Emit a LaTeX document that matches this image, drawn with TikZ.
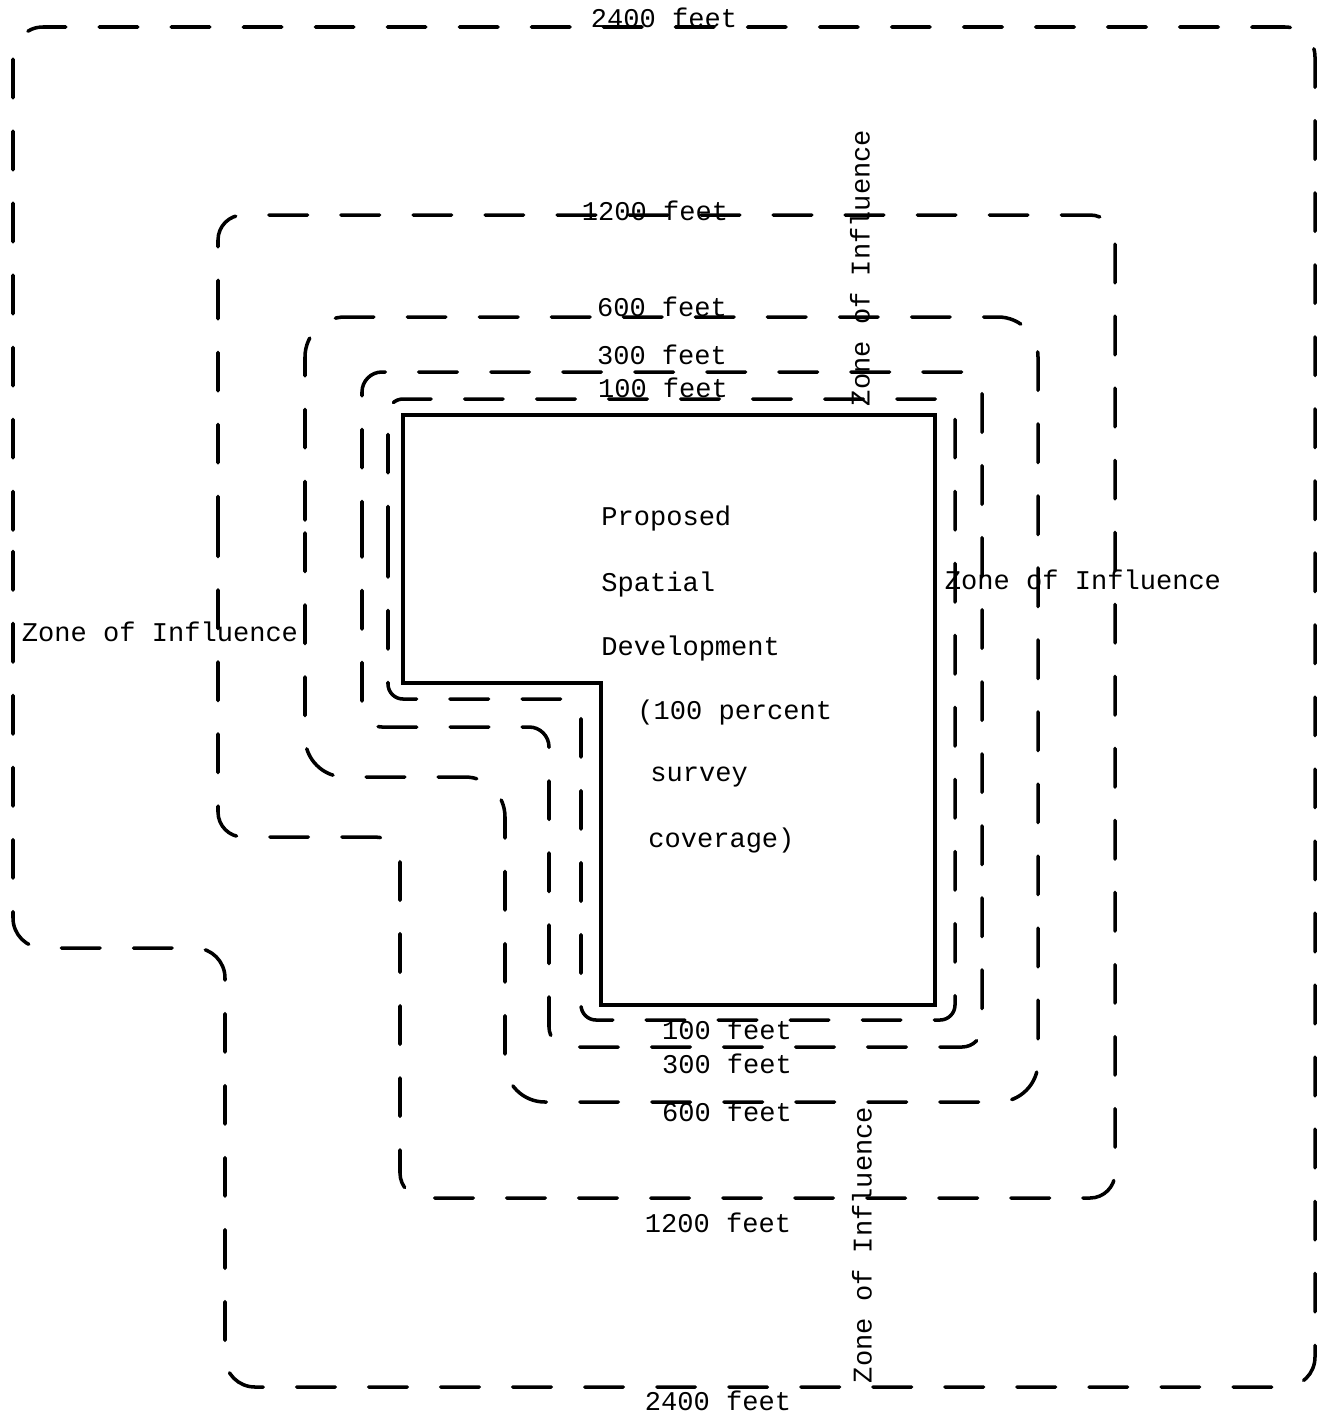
\documentclass[tikz,border=0pt]{standalone}
\usepackage{fontspec}
\setmonofont{Liberation Mono}
\usepackage{tikz}
\usetikzlibrary{positioning}

\begin{document}
\begin{tikzpicture}[x=0.02cm, y=-0.02cm,
    zone/.style={line width=2pt, dash pattern=on 22pt off 19pt, line cap=round},
    site/.style={line width=1.9pt, line join=miter},
    lbl/.style={font=\ttfamily\fontsize{15.4}{18}\selectfont, inner sep=0pt},
    body/.style={lbl, anchor=west}]
    \useasboundingbox (0,0) rectangle (1320,1424);

    % Proposed Development Outline
    \draw[site] (403,415) -- (935,415) -- (935,1005) -- (601,1005) -- (601,683) -- (403,683) -- cycle;

    % Buffer Zones (100, 300, 600, 1200, 2400 feet)
    \draw[zone, rounded corners=0.3cm] (388,560) -- (388,399) -- (955,399) -- (955,1020) -- (581,1020) -- (581,699) -- (388,699) -- cycle;
    \draw[zone, rounded corners=0.4cm] (362,560) -- (362,372) -- (982,372) -- (982,1047) -- (549,1047) -- (549,727) -- (362,727) -- cycle;
    \draw[zone, rounded corners=0.8cm] (305,560) -- (305,317) -- (1038,317) -- (1038,1102) -- (505,1102) -- (505,777) -- (305,777) -- cycle;
    \draw[zone, rounded corners=0.5cm] (218,560) -- (218,215) -- (1115,215) -- (1115,1198) -- (400,1198) -- (400,837) -- (218,837) -- cycle;
    \draw[zone, rounded corners=0.6cm] (13,560) -- (13,27) -- (1315,27) -- (1315,1387) -- (225,1387) -- (225,948) -- (13,948) -- cycle;

    % Distance Labels (top)
    \node[lbl] (t2400) at (664, 18) {2400 feet};
    \node[lbl] (t1200) at (655, 211) {1200 feet};
    \node[lbl] (t600) at (662, 307) {600 feet};
    \node[lbl] (t300) at (662, 355) {300 feet};
    \node[lbl] (t100) at (663, 388) {100 feet};

    % Distance Labels (bottom)
    \node[lbl] (b100) at (727, 1030) {100 feet};
    \node[lbl] (b300) at (727, 1064) {300 feet};
    \node[lbl] (b600) at (727, 1112) {600 feet};
    \node[lbl] (b1200) at (718, 1223) {1200 feet};
    \node[lbl] (b2400) at (718, 1401) {2400 feet};

    % Zone of Influence Labels
    \node[lbl] (zleft) at (160, 632) {Zone of Influence};
    \node[lbl] (zright) at (1083, 580) {Zone of Influence};
    \node[lbl, rotate=90] (ztop) at (860, 268) {Zone of Influence};
    \node[lbl, rotate=90] (zbottom) at (862, 1245) {Zone of Influence};

    % Site Description
    \node[body] (l1) at (601, 518) {Proposed};
    \node[body] (l2) at (601, 584) {Spatial};
    \node[body] (l3) at (601, 648) {Development};
    \node[body] (l4) at (637, 712) {(100 percent};
    \node[body] (l5) at (650, 777) {survey};
    \node[body] (l6) at (648, 840) {coverage)};
\end{tikzpicture}
\end{document}
